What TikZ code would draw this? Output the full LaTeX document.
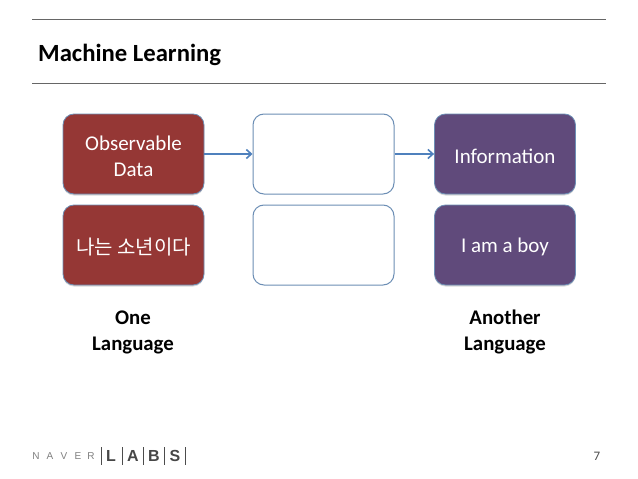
\documentclass[tikz,border=0pt]{standalone}
\usepackage{fontspec}
\setmainfont{Carlito}
\newfontfamily\cjk{Noto Sans CJK KR}
\newfontfamily\logofont{Liberation Sans}
\definecolor{redbox}{HTML}{953735}
\definecolor{purplebox}{HTML}{604A7B}
\definecolor{blueline}{HTML}{4F81BD}
\definecolor{edgeline}{HTML}{6C8EB5}
\usetikzlibrary{arrows.meta,shadows}
\tikzset{
  x=1pt,y=-1pt,
  box/.style={rounded corners=11pt,minimum width=141pt,minimum height=80pt,inner sep=0pt,draw=edgeline,line width=0.8pt},
  redb/.style={box,fill=redbox,drop shadow={opacity=.3,shadow xshift=0pt,shadow yshift=-1.5pt}},
  purpleb/.style={box,fill=purplebox,drop shadow={opacity=.3,shadow xshift=0pt,shadow yshift=-1.5pt}},
  whiteb/.style={box,fill=white,draw=edgeline,line width=1pt},
  boxtext/.style={yshift=-2pt,inner sep=0pt,align=center,text=white,font=\fontsize{21}{26}\selectfont},
  rule/.style={draw=black!60,line width=1pt},
  arrow/.style={draw=blueline,line width=1.6pt,-{Straight Barb[length=5pt,width=9pt]}},
  caption/.style={font=\fontsize{20.8}{26}\bfseries\selectfont,align=center,text=black},
  nav/.style={font=\logofont\fontsize{10}{12}\selectfont,text=black!50,inner sep=0pt},
  labs/.style={font=\logofont\fontsize{16}{17}\bfseries\selectfont,text=black!72,inner sep=0pt},
  sep/.style={draw=black!70,line width=0.7pt}
}
\begin{document}
\begin{tikzpicture}
\useasboundingbox (0,0) rectangle (638,479);
\fill[white] (0,0) rectangle (638,479);
\coordinate (r1a) at (32,19); \coordinate (r1b) at (606,19);
\coordinate (r2a) at (32,83); \coordinate (r2b) at (606,83);
\draw[rule] (r1a) -- (r1b);
\draw[rule] (r2a) -- (r2b);
\node[anchor=west,inner sep=0pt,font=\fontsize{24.7}{28}\bfseries\selectfont] (title) at (38,55) {Machine Learning};
\node[redb,label={[boxtext]center:Observable\\Data}] (a1) at (133.5,154) {};
\node[whiteb] (b1) at (323.5,154) {};
\node[purpleb,label={[boxtext]center:Information}] (c1) at (505,154) {};
\node[redb,label={[boxtext,font=\cjk\fontsize{20}{26}\selectfont]center:나는 소년이다}] (a2) at (133.5,245) {};
\node[whiteb] (b2) at (323.5,245) {};
\node[purpleb,label={[boxtext]center:I am a boy}] (c2) at (505,245) {};
\draw[arrow] (a1) -- (b1);
\draw[arrow] (b1) -- (c1);
\node[caption] (l1) at (133,332) {One\\Language};
\node[caption] (l2) at (505,332) {Another\\Language};
\node[font=\fontsize{13}{14}\selectfont,text=black!70,inner sep=0pt] (num) at (597,456) {7};
\node[nav] (n1) at (36,456) {N};
\node[nav] (n2) at (50,456) {A};
\node[nav] (n3) at (64,456) {V};
\node[nav] (n4) at (78,456) {E};
\node[nav] (n5) at (91,456) {R};
\node[labs] (l) at (111,456) {L};
\node[labs] (a) at (133,456) {A};
\node[labs] (b) at (154,456) {B};
\node[labs] (s) at (175,456) {S};
\draw[sep] (101.5,447) -- (101.5,465);
\draw[sep] (122.5,447) -- (122.5,465);
\draw[sep] (143.5,447) -- (143.5,465);
\draw[sep] (164.5,447) -- (164.5,465);
\draw[sep] (185.5,447) -- (185.5,465);
\end{tikzpicture}
\end{document}
